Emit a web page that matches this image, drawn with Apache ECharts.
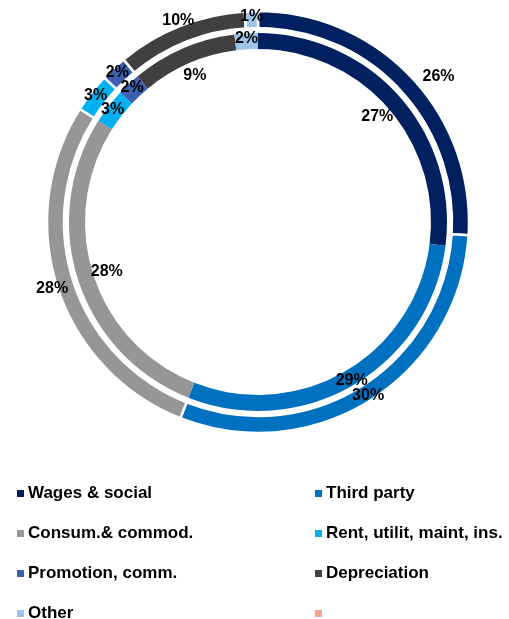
<!DOCTYPE html>
<html>
<head>
<meta charset="utf-8">
<script src="https://cdn.jsdelivr.net/npm/echarts@6/dist/echarts.min.js"></script>
<style>
  html, body { margin: 0; padding: 0; background: #ffffff; }
  #chart { width: 509px; height: 619px; }
</style>
</head>
<body>
<div id="chart"></div>
<script>
// Cost breakdown, two years shown as nested rings (values in %)
const categories = ['Wages & social', 'Third party', 'Consum.& commod.', 'Rent, utilit, maint, ins.',
                    'Promotion, comm.', 'Depreciation', 'Other', ' '];
const outerValues = [26, 30, 28, 3, 2, 10, 1, null];
const innerValues = [27, 29, 28, 3, 2, 9, 2, null];

const colors = ['#002060', '#0070C0', '#969696', '#00B0F0', '#3C5FAF', '#404040', '#9DC3E6', '#F2A58C'];

// Where each value label goes: 'ring' = on the ring, 'out' = just outside
// the outer ring with a short hidden leader, 'beside' = on a label track
const outerPlacement = ['out', 'ring', 'beside', 'ring', 'ring', 'beside', 'ring', 'ring'];
const innerPlacement = ['beside', 'ring', 'beside', 'ring', 'ring', 'beside', 'ring', 'ring'];

const center = [258, 222];
const fontFamily = '"Liberation Sans", Arial, Helvetica, sans-serif';
const valueLabel = {
  position: 'inside',
  formatter: '{c}%',
  color: '#000000',
  fontFamily: fontFamily,
  fontWeight: 'bold',
  fontSize: 16,
  overflow: 'none'
};

// Build pie data; labels are shown only for items placed as `kinds`
function pieData(values, placement, kinds, transparent) {
  return categories.map((name, i) => {
    const item = {
      name: name,
      value: values[i],
      itemStyle: { color: transparent ? 'rgba(0,0,0,0)' : colors[i] },
      label: { show: values[i] != null && kinds.indexOf(placement[i]) >= 0 }
    };
    if (placement[i] === 'out' && !transparent) {
      item.label.position = 'outside';
      item.labelLine = { show: false, length: 1, length2: 5 };
    }
    return item;
  });
}

function ring(name, radius, values, border, placement) {
  return {
    name: name,
    type: 'pie',
    center: center,
    radius: radius,
    startAngle: 90,
    clockwise: true,
    avoidLabelOverlap: false,
    labelLayout: { hideOverlap: false },
    itemStyle: { borderColor: '#ffffff', borderWidth: border },
    label: valueLabel,
    labelLine: { show: false },
    emphasis: { disabled: true },
    data: pieData(values, placement, ['ring', 'out'], false)
  };
}

// Invisible ring used only to carry labels at a given radius
function labelTrack(name, radius, values, placement) {
  return {
    name: name,
    type: 'pie',
    center: center,
    radius: radius,
    startAngle: 90,
    clockwise: true,
    silent: true,
    legendHoverLink: false,
    avoidLabelOverlap: false,
    labelLayout: { hideOverlap: false },
    itemStyle: { borderWidth: 0 },
    label: valueLabel,
    labelLine: { show: false },
    emphasis: { disabled: true },
    data: pieData(values, placement, ['beside'], true)
  };
}

const legendText = {
  color: '#000000',
  fontFamily: fontFamily,
  fontWeight: 'bold',
  fontSize: 17,
  lineHeight: 17,
  padding: [0, 0, 0, -2]
};

function legendColumn(left, names) {
  return {
    orient: 'vertical',
    left: left,
    top: 480,
    height: 170,
    icon: 'rect',
    itemWidth: 9,
    itemHeight: 9,
    itemGap: 23,
    selectedMode: false,
    textStyle: legendText,
    data: names
  };
}

const chart = echarts.init(document.getElementById('chart'), null, { renderer: 'canvas' });
chart.setOption({
  backgroundColor: '#ffffff',
  animation: false,
  legend: [
    legendColumn(10, [categories[0], categories[2], categories[4], categories[6]]),
    legendColumn(308, [categories[1], categories[3], categories[5], categories[7]])
  ],
  series: [
    ring('Outer', [194, 211], outerValues, 2.5, outerPlacement),
    ring('Inner', [173, 189], innerValues, 0, innerPlacement),
    labelTrack('Outer labels', [205, 222], outerValues, outerPlacement),
    labelTrack('Inner labels', [146, 166], innerValues, innerPlacement)
  ]
});
</script>
</body>
</html>
